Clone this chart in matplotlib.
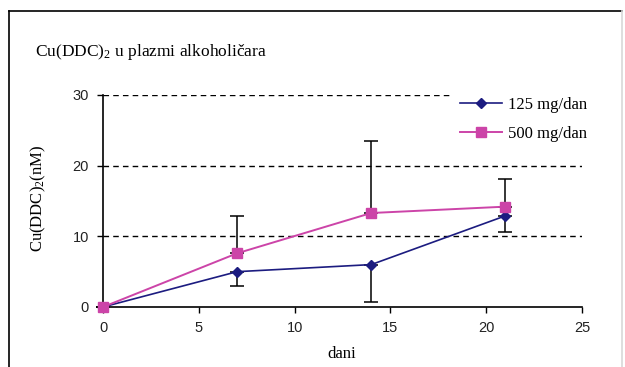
import matplotlib
matplotlib.use("Agg")
import matplotlib.pyplot as plt
from matplotlib.lines import Line2D

days = [0, 7, 14, 21]
low_dose = [0.0, 5.0, 6.0, 12.9]      # 125 mg/dan
high_dose = [0.0, 7.6, 13.3, 14.2]    # 500 mg/dan
low_err_minus = [0.0, 2.0, 5.3, 2.3]
high_err_plus = [0.0, 5.3, 10.2, 3.9]
series_labels = ["125 mg/dan", "500 mg/dan"]
x_ticks = [0, 5, 10, 15, 20, 25]
y_ticks = [0, 10, 20, 30]

plt.rcParams["mathtext.fontset"] = "custom"
plt.rcParams["mathtext.rm"] = "Liberation Serif"
plt.rcParams["mathtext.it"] = "Liberation Serif:italic"
plt.rcParams["mathtext.bf"] = "Liberation Serif:bold"

W, H = 625, 367
fig = plt.figure(figsize=(W / 100, H / 100), dpi=100)
fig.patch.set_facecolor("white")

serif = ["Liberation Serif", "DejaVu Serif"]
sans = ["Liberation Sans", "DejaVu Sans"]

# outer chart border
fig.add_artist(Line2D([9 / W, 9 / W], [0, 1 - 11 / H], color="black", lw=1.2, transform=fig.transFigure))
fig.add_artist(Line2D([9 / W, 622 / W], [1 - 11 / H, 1 - 11 / H], color="black", lw=1.2, transform=fig.transFigure))
fig.add_artist(Line2D([622 / W, 622 / W], [0, 1 - 11 / H], color="#d8d8d8", lw=1.2, transform=fig.transFigure))

ax = fig.add_axes([103 / W, 1 - 307 / H, (582 - 103) / W, (307 - 95) / H])
ax.set_xlim(0, 25)
ax.set_ylim(0, 30)

for s in ["top", "right"]:
    ax.spines[s].set_visible(False)
for s in ["left", "bottom"]:
    ax.spines[s].set_linewidth(1.2)
    ax.spines[s].set_color("black")

for yv in y_ticks[1:]:
    ax.axhline(yv, color="black", lw=1.0, ls=(0, (4, 3)), zorder=1)

blue = "#1c1c80"
pink = "#cc44a8"

ax.errorbar(days, low_dose, yerr=[low_err_minus, [0] * 4], fmt="none", ecolor="black",
            elinewidth=1.1, capsize=4.7, capthick=1.1, zorder=3, clip_on=False)
ax.errorbar(days, high_dose, yerr=[[0] * 4, high_err_plus], fmt="none", ecolor="black",
            elinewidth=1.1, capsize=4.7, capthick=1.1, zorder=3, clip_on=False)

ax.plot(days, low_dose, color=blue, lw=1.2, marker="D", ms=5.5, mfc=blue, mec=blue,
        label=series_labels[0], zorder=4, clip_on=False)
ax.plot(days, high_dose, color=pink, lw=1.4, marker="s", ms=7, mfc=pink, mec=pink,
        label=series_labels[1], zorder=4, clip_on=False)

ax.set_xticks(x_ticks)
ax.set_yticks(y_ticks)
ax.tick_params(axis="both", direction="out", length=4, width=1, colors="black",
               labelsize=10.5, labelcolor="#222222")
ax.tick_params(axis="x", pad=6)
ax.tick_params(axis="y", pad=6)
for lab in ax.get_xticklabels() + ax.get_yticklabels():
    lab.set_family(sans)

fig.text(342 / W, 1 - 354 / H, "dani", family=serif, fontsize=12, ha="center", va="center")
fig.text(38 / W, 1 - 198 / H, "Cu(DDC)$_2$(nM)", rotation=90, family=serif, fontsize=12,
         ha="center", va="center")
fig.text(35 / W, 1 - 52 / H, "Cu(DDC)$_2$ u plazmi alkoholičara", family=serif, fontsize=12.5,
         ha="left", va="center")

leg = ax.legend(loc="upper left", bbox_to_anchor=(445 / W, 1 - 82 / H), bbox_transform=fig.transFigure,
                frameon=True, fancybox=False, edgecolor="none", facecolor="white", framealpha=1,
                prop={"family": serif, "size": 12}, handlelength=2.5, handletextpad=0.4,
                labelspacing=0.75, borderpad=0.4)
leg.set_zorder(5)

fig.savefig("out.png", dpi=100, facecolor="white")
